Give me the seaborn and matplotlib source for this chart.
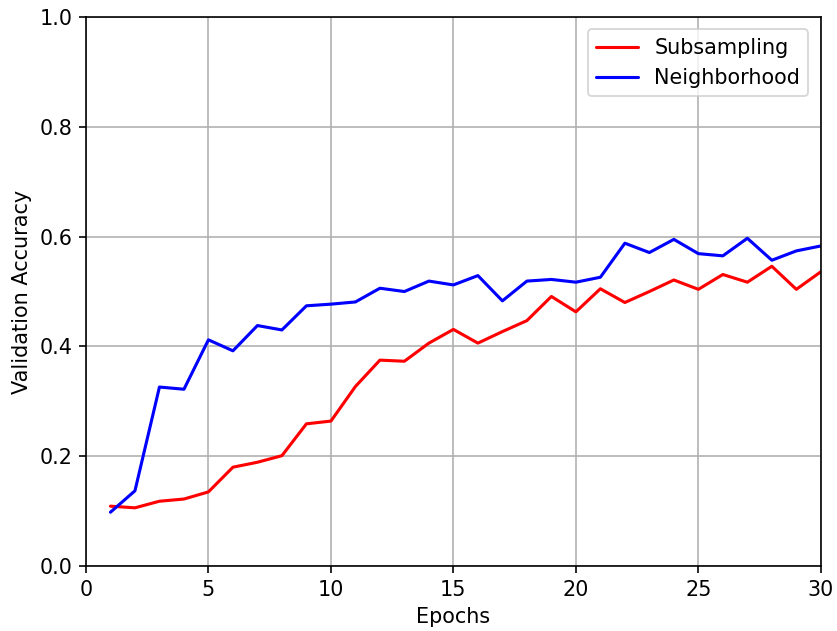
import numpy as np
import pandas as pd
import matplotlib
matplotlib.use('Agg')
import matplotlib.pyplot as plt
import seaborn as sns

# validation accuracy per epoch
epochs = list(range(1, 31))
subsampling = [0.109, 0.106, 0.118, 0.122, 0.135, 0.180, 0.189, 0.201, 0.259, 0.264,
               0.327, 0.375, 0.373, 0.406, 0.431, 0.406, 0.427, 0.447, 0.491, 0.463,
               0.505, 0.480, 0.500, 0.521, 0.504, 0.531, 0.517, 0.546, 0.504, 0.536]
neighborhood = [0.098, 0.137, 0.326, 0.322, 0.412, 0.392, 0.438, 0.430, 0.474, 0.477,
                0.481, 0.506, 0.500, 0.519, 0.512, 0.529, 0.483, 0.519, 0.522, 0.517,
                0.526, 0.588, 0.571, 0.595, 0.569, 0.565, 0.597, 0.557, 0.574, 0.583]

df = pd.DataFrame({'Epochs': epochs * 2,
                   'acc': subsampling + neighborhood,
                   'method': ['Subsampling'] * 30 + ['Neighborhood'] * 30})

sns.set_style('ticks')
plt.rcParams['font.family'] = ['DejaVu Sans']
plt.rcParams['text.color'] = 'black'
plt.rcParams['axes.labelcolor'] = 'black'
plt.rcParams['xtick.color'] = 'black'
plt.rcParams['ytick.color'] = 'black'

fs = 11.4
f = plt.figure(figsize=(837 / 131, 631 / 131), dpi=131)
ax = f.add_axes([0.1027, 0.103, 0.878, 0.870])
sns.lineplot(data=df, x='Epochs', y='acc', hue='method',
             palette={'Subsampling': 'red', 'Neighborhood': 'blue'},
             linewidth=1.7, ax=ax)

ax.grid(True, color='#b0b0b0', linewidth=0.9)
ax.set_axisbelow(True)
ax.set_xlim(0, 30)
ax.set_ylim(0, 1.0)
ax.set_xticks([0, 5, 10, 15, 20, 25, 30])
ax.set_yticks(np.arange(0, 1.01, 0.2))
ax.set_xlabel('Epochs', fontsize=fs)
ax.set_ylabel('Validation Accuracy', fontsize=fs)
ax.tick_params(labelsize=fs, direction='out', length=4, width=0.9)
for s in ax.spines.values():
    s.set_linewidth(0.9)
    s.set_color('black')

ax.legend(title=None, loc='upper right', fontsize=fs, framealpha=0.8,
          borderaxespad=0.6)

f.savefig('out.png', dpi=131)
